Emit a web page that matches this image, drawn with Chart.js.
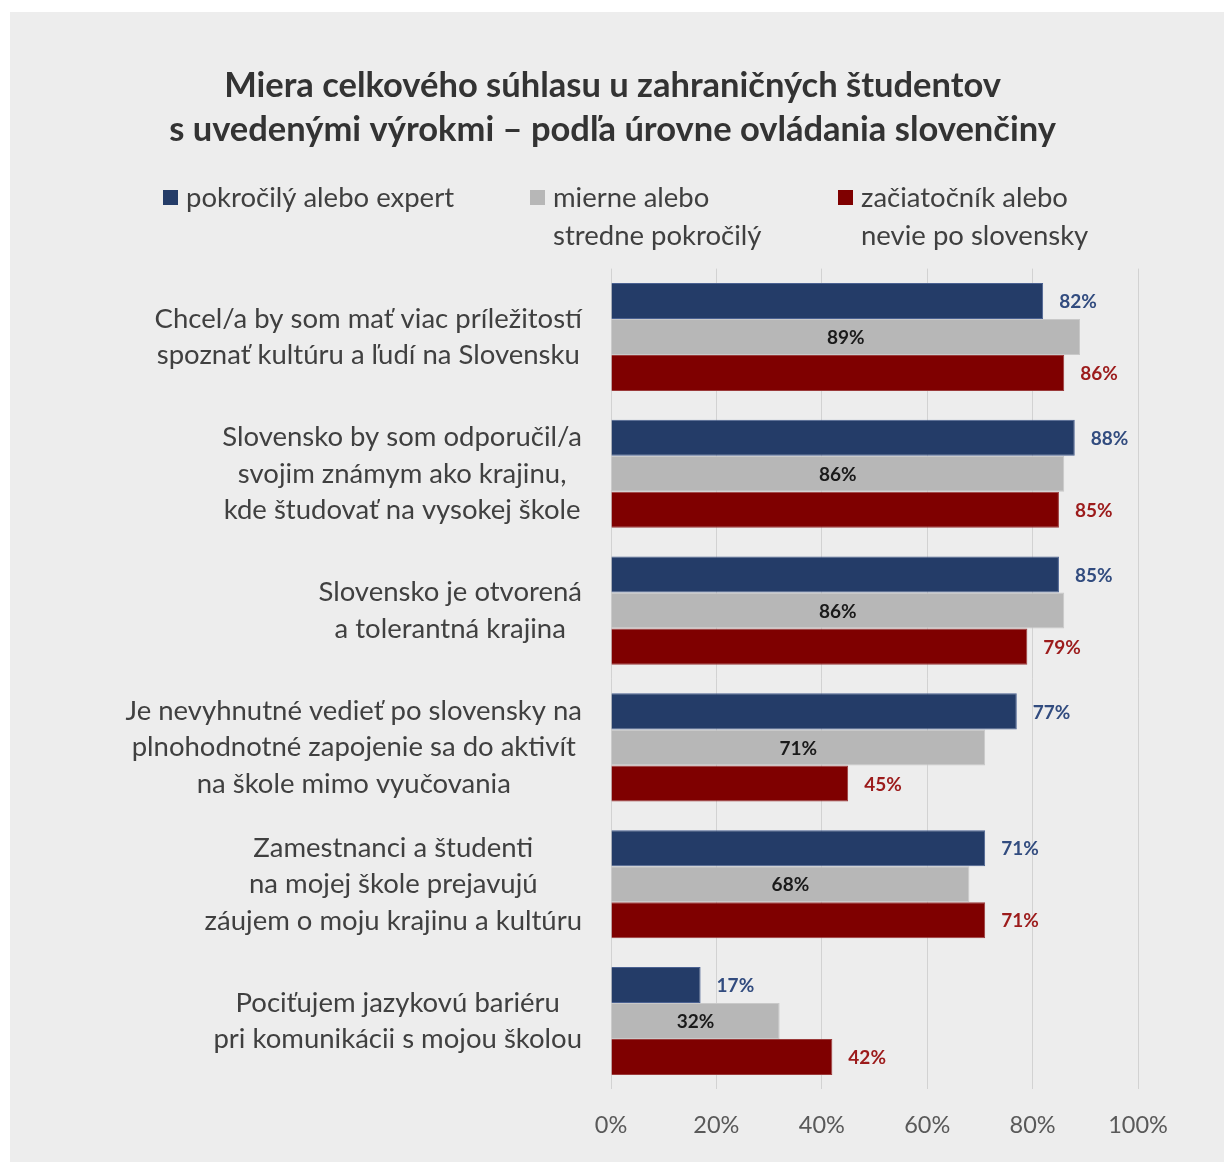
<!DOCTYPE html>
<html lang="sk">
<head>
<meta charset="utf-8">
<script src="https://cdn.jsdelivr.net/npm/chart.js@4.4.1/dist/chart.umd.min.js"></script>
<style>
html, body { margin: 0; padding: 0; background: #fff; }
#panel { position: absolute; left: 10px; top: 12px; width: 1214px; height: 1150px; background: #ededed; }
</style>
</head>
<body>
<div id="panel"><canvas id="barChart" width="1214" height="1150"></canvas></div>
<script>
// categories (multi-line labels as in the original)
var categories = [
    ['Chcel/a by som mať viac príležitostí', 'spoznať kultúru a ľudí na Slovensku'],
    ['Slovensko by som odporučil/a', 'svojim známym ako krajinu,', 'kde študovať na vysokej škole'],
    ['Slovensko je otvorená', 'a tolerantná krajina'],
    ['Je nevyhnutné vedieť po slovensky na', 'plnohodnotné zapojenie sa do aktivít', 'na škole mimo vyučovania'],
    ['Zamestnanci a študenti', 'na mojej škole prejavujú', 'záujem o moju krajinu a kultúru'],
    ['Pociťujem jazykovú bariéru', 'pri komunikácii s mojou školou']
];
var seriesNames = [
    ['pokročilý alebo expert'],
    ['mierne alebo', 'stredne pokročilý'],
    ['začiatočník alebo', 'nevie po slovensky']
];
var advanced = [82, 88, 85, 77, 71, 17];
var intermediate = [89, 86, 86, 71, 68, 32];
var beginner = [86, 85, 79, 45, 71, 42];
var xTicks = [0, 20, 40, 60, 80, 100];
var titleLines = ['Miera celkového súhlasu u zahraničných študentov', 's uvedenými výrokmi – podľa úrovne ovládania slovenčiny'];

var FONT = 'Lato, "DejaVu Sans", sans-serif';

// value labels: outside for blue/red, centered inside for gray
var valueLabels = {
    id: 'valueLabels',
    afterDatasetsDraw: function(chart) {
        var ctx = chart.ctx;
        ctx.save();
        ctx.font = 'bold 19px ' + FONT;
        ctx.textBaseline = 'middle';
        chart.data.datasets.forEach(function(ds, i) {
            var meta = chart.getDatasetMeta(i);
            meta.data.forEach(function(bar, j) {
                var txt = ds.data[j] + '%';
                ctx.fillStyle = ds.labelColor;
                if (ds.labelInside) {
                    ctx.textAlign = 'center';
                    ctx.fillText(txt, (bar.base + bar.x) / 2, bar.y + 1);
                } else {
                    ctx.textAlign = 'left';
                    ctx.fillText(txt, bar.x + 16, bar.y + 1);
                }
            });
        });
        ctx.restore();
    }
};

// category labels: each block centered on its widest line, block right-aligned
var categoryLabels = {
    id: 'categoryLabels',
    afterDraw: function(chart) {
        var ctx = chart.ctx;
        var yScale = chart.scales.y;
        var lh = 36.5;
        ctx.save();
        ctx.font = '27.5px ' + FONT;
        ctx.fillStyle = '#404040';
        ctx.textAlign = 'center';
        ctx.textBaseline = 'middle';
        chart.data.labels.forEach(function(lines, j) {
            var widest = 0;
            lines.forEach(function(l) { widest = Math.max(widest, ctx.measureText(l).width); });
            var cx = chart.chartArea.left - 29 - widest / 2;
            var cy = yScale.getPixelForValue(j);
            lines.forEach(function(l, k) {
                ctx.fillText(l, cx, cy + (k - (lines.length - 1) / 2) * lh);
            });
        });
        ctx.restore();
    }
};

// legend in three columns with wrapped text
var legendBoxes = {
    id: 'legendBoxes',
    afterDraw: function(chart) {
        var ctx = chart.ctx;
        var xs = [153, 520, 828];
        ctx.save();
        ctx.font = '27.5px ' + FONT;
        ctx.textBaseline = 'middle';
        ctx.textAlign = 'left';
        chart.data.datasets.forEach(function(ds, i) {
            ctx.fillStyle = ds.backgroundColor;
            ctx.fillRect(xs[i], 178, 15, 15);
            ctx.fillStyle = '#404040';
            ds.label.forEach(function(l, k) {
                ctx.fillText(l, xs[i] + 23, 186 + k * 38);
            });
        });
        ctx.restore();
    }
};

var ctx = document.getElementById('barChart').getContext('2d');
var myChart = new Chart(ctx, {
    type: 'bar',
    data: {
        labels: categories,
        datasets: [{
            label: seriesNames[0],
            data: advanced,
            backgroundColor: '#243c68',
            borderColor: '#4a6191',
            borderWidth: 1,
            labelColor: '#324c7f',
            labelInside: false
        }, {
            label: seriesNames[1],
            data: intermediate,
            backgroundColor: '#b7b7b7',
            borderColor: '#c9c9c9',
            borderWidth: 1,
            labelColor: '#1a1a1a',
            labelInside: true
        }, {
            label: seriesNames[2],
            data: beginner,
            backgroundColor: '#7f0000',
            borderColor: '#9b3a3a',
            borderWidth: 1,
            labelColor: '#9c1b1b',
            labelInside: false
        }]
    },
    options: {
        indexAxis: 'y',
        responsive: false,
        animation: false,
        datasets: {
            bar: { barPercentage: 1, categoryPercentage: 0.79 }
        },
        layout: { padding: { left: 77, right: 86, top: 0, bottom: 0 } },
        plugins: {
            legend: { display: false },
            tooltip: { enabled: false },
            title: {
                display: true,
                text: titleLines,
                color: '#333333',
                font: { family: FONT, size: 34.5, weight: 'bold', lineHeight: 44 / 34.5 },
                padding: { top: 52, bottom: 116.6 }
            }
        },
        scales: {
            x: {
                min: 0,
                max: 100,
                afterBuildTicks: function(scale) {
                    scale.ticks = xTicks.map(function(v) { return { value: v }; });
                },
                afterFit: function(scale) { scale.height = 72.6; },
                grid: { color: '#d2d2d2', lineWidth: 1, drawTicks: false },
                border: { display: false },
                ticks: {
                    padding: 22,
                    color: '#595959',
                    font: { family: FONT, size: 23.5 },
                    callback: function(v) { return v + '%'; }
                }
            },
            y: {
                afterFit: function(scale) { scale.width = 524; },
                grid: { display: false, drawTicks: false },
                border: { display: false },
                ticks: { display: false }
            }
        }
    },
    plugins: [valueLabels, categoryLabels, legendBoxes]
});
</script>
</body>
</html>
